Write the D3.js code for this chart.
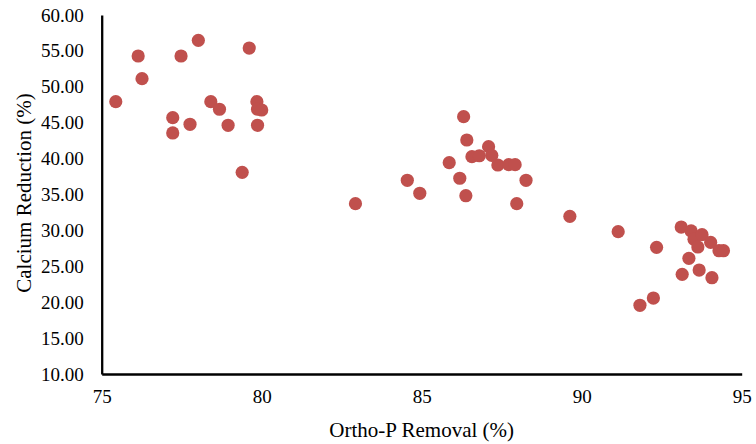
<!DOCTYPE html>
<html>
<head>
<meta charset="utf-8">
<script src="https://cdn.jsdelivr.net/npm/d3@7"></script>
<style>
html,body{margin:0;padding:0;background:#fff;}
svg{display:block;}
svg text{font-family:"Liberation Serif","Times New Roman",serif;}
</style>
</head>
<body>
<svg id="chart" width="756" height="444"></svg>
<script>
const orthoP = [75.44,76.14,76.26,77.22,77.22,77.48,77.76,78.02,78.41,78.68,78.95,79.39,79.61,79.85,79.87,80.0,79.87,
  82.93,84.55,84.94,85.86,86.19,86.31,86.38,86.41,86.57,86.8,87.09,87.19,87.38,87.72,87.92,88.26,87.97,
  89.63,91.14,92.34,91.82,92.24,93.11,93.42,93.51,93.76,93.63,94.03,94.29,94.43,93.35,93.14,93.67,94.07];
const calcium = [47.93,54.29,51.13,45.70,43.57,54.29,44.78,56.47,47.93,46.87,44.64,38.09,55.40,47.93,46.87,46.77,44.64,
  33.72,36.98,35.17,39.43,37.26,45.84,34.83,42.59,40.27,40.40,41.66,40.46,39.11,39.15,39.15,36.98,33.72,
  31.96,29.82,27.64,19.57,20.58,30.47,29.92,28.76,29.40,27.69,28.34,27.17,27.17,26.11,23.88,24.48,23.41];
const xTicks = [75,80,85,90,95];
const yTicks = [10,15,20,25,30,35,40,45,50,55,60];
const xTitle = "Ortho-P Removal (%)";
const yTitle = "Calcium Reduction (%)";

const svg = d3.select("#chart");
const x = d3.scaleLinear().domain([75,95]).range([101.7,741.7]);
const y = d3.scaleLinear().domain([10,60]).range([374,15]);

const xAxis = svg.append("g").attr("transform","translate(0,374)")
  .call(d3.axisBottom(x).tickValues(xTicks).tickFormat(d3.format("d")).tickSizeInner(0).tickSizeOuter(0).tickPadding(16));
const yAxis = svg.append("g").attr("transform","translate(101.7,0)")
  .call(d3.axisLeft(y).tickValues(yTicks).tickFormat(d3.format(".2f")).tickSizeInner(0).tickSizeOuter(0).tickPadding(18));
[xAxis,yAxis].forEach(g=>{
  g.attr("font-family",null).attr("font-size",null);
  g.select(".domain").attr("stroke","#000").attr("stroke-width",2.3);
  g.selectAll("text").style("font-size","19px").attr("fill","#000");
});

svg.append("g").selectAll("circle")
  .data(orthoP.map((v,i)=>[v,calcium[i]]))
  .join("circle")
  .attr("cx",d=>x(d[0])).attr("cy",d=>y(d[1])).attr("r",6.6)
  .attr("fill","#C0504D");

svg.append("text").attr("x",421.7).attr("y",437).attr("text-anchor","middle")
  .style("font-size","21px").attr("fill","#000").text(xTitle);
svg.append("text").attr("transform","translate(31,193) rotate(-90)").attr("text-anchor","middle")
  .style("font-size","21px").attr("fill","#000").text(yTitle);
</script>
</body>
</html>
